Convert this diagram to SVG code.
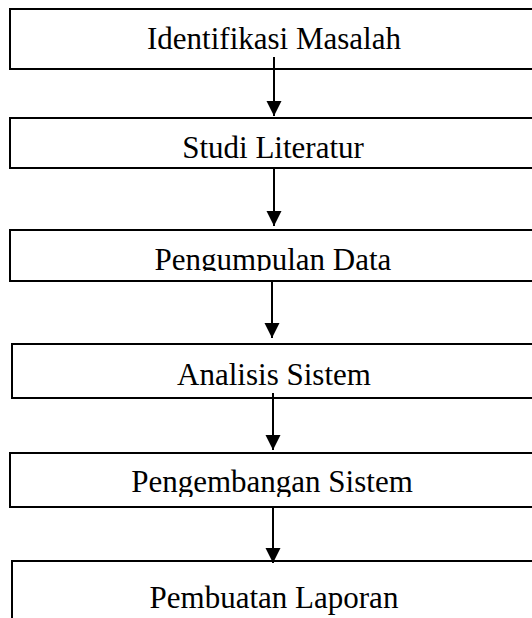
<svg xmlns="http://www.w3.org/2000/svg" width="532" height="618" viewBox="0 0 532 618">
<style>
.box{fill:#fff;stroke:#000;stroke-width:2}
.lbl{font-family:"Liberation Serif","Times New Roman",serif;font-size:31px;fill:#000;text-anchor:middle}
.conn{stroke:#000;stroke-width:2;fill:none;marker-end:url(#ah)}
</style>
<defs>
<marker id="ah" markerUnits="userSpaceOnUse" markerWidth="16" markerHeight="16" refX="15" refY="7.5" orient="auto">
<polygon points="0,0 15,7.5 0,15" fill="#000"/>
</marker>
<clipPath id="c3"><rect x="0" y="230" width="532" height="41"/></clipPath>
<clipPath id="c5"><rect x="0" y="453" width="532" height="44"/></clipPath>
</defs>
<rect width="532" height="618" fill="#fff"/>
<g id="n1"><rect class="box" x="10" y="9" width="540" height="60"/><text class="lbl" x="274" y="49">Identifikasi Masalah</text></g>
<g id="n2"><rect class="box" x="10" y="118" width="540" height="50"/><text class="lbl" x="273" y="158">Studi Literatur</text></g>
<g id="n3"><rect class="box" x="10" y="230" width="540" height="51"/><text class="lbl" x="273" y="270" clip-path="url(#c3)">Pengumpulan Data</text></g>
<g id="n4"><rect class="box" x="12" y="344" width="540" height="54"/><text class="lbl" x="274" y="385">Analisis Sistem</text></g>
<g id="n5"><rect class="box" x="10" y="453" width="540" height="54"/><text class="lbl" x="272" y="492" clip-path="url(#c5)">Pengembangan Sistem</text></g>
<g id="n6"><rect class="box" x="12" y="561" width="540" height="80"/><text class="lbl" x="274" y="608">Pembuatan Laporan</text></g>
<g id="connectors">
<line class="conn" x1="274" y1="57" x2="274" y2="116"/>
<line class="conn" x1="274" y1="168" x2="274" y2="226"/>
<line class="conn" x1="272" y1="281" x2="272" y2="338"/>
<line class="conn" x1="273" y1="393" x2="273" y2="450"/>
<line class="conn" x1="273" y1="507" x2="273" y2="563"/>
</g>
</svg>
